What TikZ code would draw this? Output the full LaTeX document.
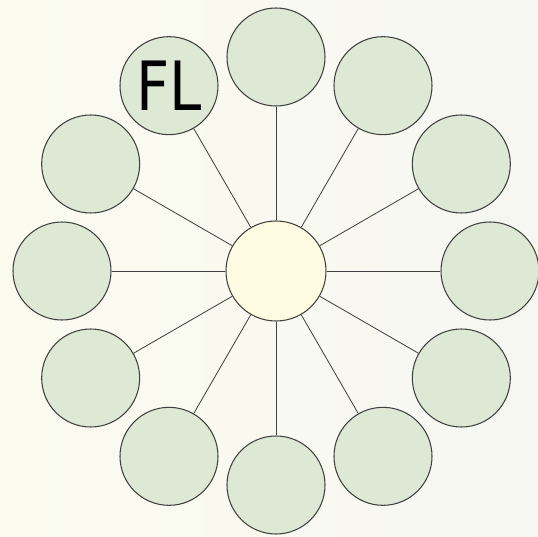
\documentclass[tikz,border=0pt]{standalone}
\usepackage{fontspec}
\setmainfont{DejaVu Sans}
\usetikzlibrary{calc}
\definecolor{petal}{HTML}{DDE8D5}
\definecolor{hub}{HTML}{FFFBE3}
\definecolor{rim}{HTML}{404040}
\tikzset{
  petal/.style = {circle, draw = rim, fill = petal, line width = 0.9pt, minimum size = 2.94cm, inner sep = 0pt},
  hub/.style = {circle, draw = rim, fill = hub, line width = 0.9pt, minimum size = 3cm, inner sep = 0pt},
  spoke/.style = {draw = rim, line width = 0.7pt}
}

\begin{document}
\begin{tikzpicture}
    \shade [left color = {rgb,255:red,251;green,251;blue,240}, right color = {rgb,255:red,246;green,247;blue,241}] (-8.28,-7.95) rectangle (7.86,8.13);
    \useasboundingbox (-8.28,-7.95) rectangle (7.86,8.13);

    \node [hub] (c) at (0,0) {};

    \node [petal] (p0) at (0:6.42) {};
    \node [petal] (p30) at (30:6.42) {};
    \node [petal] (p60) at (60:6.42) {};
    \node [petal] (p90) at (90:6.42) {};
    \node [petal] (p120) at (120:6.42) {\scalebox{0.85}[1]{\fontsize{58}{58}\selectfont FL}};
    \node [petal] (p150) at (150:6.42) {};
    \node [petal] (p180) at (180:6.42) {};
    \node [petal] (p210) at (210:6.42) {};
    \node [petal] (p240) at (240:6.42) {};
    \node [petal] (p270) at (270:6.42) {};
    \node [petal] (p300) at (300:6.42) {};
    \node [petal] (p330) at (330:6.42) {};

    \draw [spoke] (c) -- (p0);
    \draw [spoke] (c) -- (p30);
    \draw [spoke] (c) -- (p60);
    \draw [spoke] (c) -- (p90);
    \draw [spoke] (c) -- (p120);
    \draw [spoke] (c) -- (p150);
    \draw [spoke] (c) -- (p180);
    \draw [spoke] (c) -- (p210);
    \draw [spoke] (c) -- (p240);
    \draw [spoke] (c) -- (p270);
    \draw [spoke] (c) -- (p300);
    \draw [spoke] (c) -- (p330);
  \end{tikzpicture}
\end{document}
